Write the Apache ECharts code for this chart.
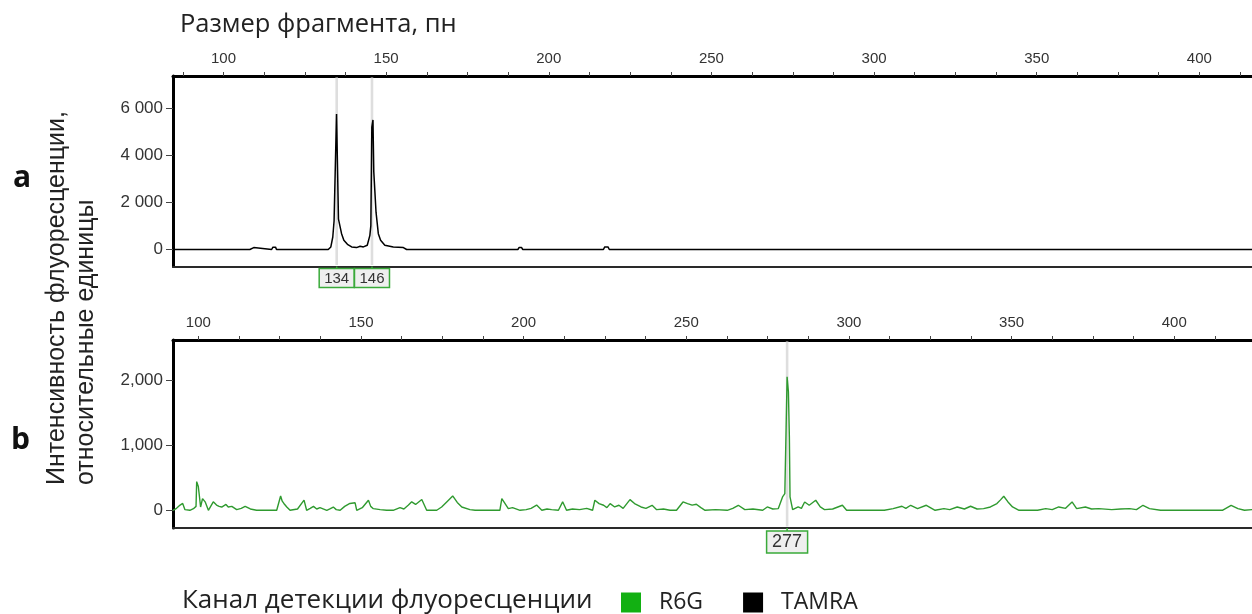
<!DOCTYPE html>
<html><head><meta charset="utf-8">
<script src="https://cdn.jsdelivr.net/npm/echarts@6/dist/echarts.min.js"></script>
<style>html,body{margin:0;padding:0;background:#fff}#chart{width:1252px;height:614px}</style>
</head><body><div id="chart"></div>
<script>
// ---------- data ----------
const sizeTickLabels = [100, 150, 200, 250, 300, 350, 400];
const sizeMinorTicks = [87.5, 100, 112.5, 125, 137.5, 150, 162.5, 175, 187.5, 200, 212.5, 225, 237.5, 250, 262.5, 275, 287.5, 300, 312.5, 325, 337.5, 350, 362.5, 375, 387.5, 400, 412.5];

const yTicksA = [0, 2000, 4000, 6000];
const yMinorA = [-500, 0, 500, 1000, 1500, 2000, 2500, 3000, 3500, 4000, 4500, 5000, 5500, 6000, 6500, 7000];
const yTicksB = [0, 1000, 2000];
const yMinorB = [-250, 0, 250, 500, 750, 1000, 1250, 1500, 1750, 2000, 2250, 2500];

// panel a: TAMRA channel, [size bp, intensity]
const tamra = [
  [84.5,0],[108.1,0],[108.5,80],[109.3,80],[109.7,0],[114.8,0],[115.2,100],[116.0,100],[116.3,0],
  [132.2,0],[133.0,110],[133.6,530],[134.0,1220],[134.5,1300],[134.75,5740],[135.05,5740],[135.35,1290],
  [135.8,1220],[136.3,670],[137.0,390],[138.1,220],[139.4,110],[140.9,80],[142.0,140],[143.0,110],
  [144.2,180],[145.0,600],[145.3,1010],[145.6,5180],[145.95,5490],[146.2,3300],[146.9,1570],[147.6,670],
  [148.3,390],[149.6,180],[152.2,110],[155.3,80],[156.3,0],[190.5,0],[190.9,90],[191.6,90],[192.0,0],
  [216.8,0],[217.2,110],[218.2,110],[218.6,0],[420,0]
];
// panel b: R6G channel, [size bp, intensity]
const r6g = [
  [92.2,0],[93.3,30],[94.4,80],[95.2,105],[95.9,10],[97.4,0],[98.5,25],[99.3,60],[99.5,440],[100.0,365],[100.3,235],
  [100.7,50],[101.3,180],[102.1,130],[103.1,0],[104.6,130],[105.6,80],[106.4,60],[107.2,50],[108.5,90],[109.2,50],
  [110.3,60],[111.8,10],[113.2,30],[114.4,60],[116.0,20],[117.9,0],[124.1,0],[124.6,25],[125.3,220],[125.8,140],
  [126.3,105],[127.2,50],[128.2,0],[130.5,20],[132.5,155],[133.3,0],[134.4,30],[135.4,60],[136.4,20],[137.4,40],
  [139.5,0],[140.6,25],[141.5,50],[142.4,10],[143.6,0],[145.0,60],[146.6,105],[148.2,115],[148.7,0],[150.4,40],
  [152.3,155],[153.0,60],[153.8,25],[155.9,10],[157.9,0],[159.9,0],[162.0,40],[163.2,20],[164.6,80],[165.6,130],
  [166.8,90],[168.7,165],[170.2,0],[173.3,0],[174.8,50],[176.6,140],[178.2,220],[179.6,120],[181.0,50],[183.5,10],
  [185.1,0],[192.7,0],[193.3,180],[194.2,110],[195.3,25],[196.6,40],[198.9,0],[200.8,10],[202.3,30],[204.0,80],
  [205.6,0],[207.2,20],[208.6,10],[210.7,0],[212.0,130],[213.2,0],[215.0,20],[217.2,10],[219.4,30],[221.2,0],
  [221.9,154],[223.2,103],[224.6,77],[225.6,40],[226.6,103],[228.0,51],[229.3,77],[230.6,30],[232.7,164],
  [234.1,103],[236.1,51],[237.6,30],[239.5,77],[240.9,10],[243.0,20],[245.0,0],[247.0,0],[249.0,128],[250.4,103],
  [251.8,80],[253.1,92],[254.5,40],[255.8,0],[259.0,10],[262.6,0],[264.3,30],[266.0,77],[268.0,10],[270.5,20],
  [273.5,0],[274.9,51],[276.6,20],[278.3,26],[279.6,205],[280.3,256],[280.7,1280],[281.0,2050],[281.4,1820],
  [281.7,1130],[281.9,205],[282.7,10],[284.4,51],[285.4,30],[286.4,128],[287.8,77],[289.8,154],[291.2,51],
  [292.5,10],[295.0,20],[298.0,77],[299.3,0],[310.9,0],[313.6,26],[316.3,62],[317.5,30],[319.0,77],[321.1,26],
  [323.8,77],[326.5,0],[329.2,26],[331.0,10],[333.3,51],[335.5,20],[337.4,62],[339.4,20],[341.4,26],[343.5,51],
  [345.5,103],[346.6,160],[347.6,215],[348.9,128],[350.3,51],[352.3,0],[358.0,0],[360.5,26],[362.5,10],[364.5,51],
  [366.6,30],[368.6,128],[370.0,26],[372.7,51],[374.6,20],[376.8,26],[380.8,10],[383.5,20],[386.3,26],[388.4,10],
  [390.4,77],[392.4,26],[395.8,0],[414.8,0],[417.5,77],[419.6,26],[421.6,0],[424.0,10],[428,0]
];

// size-calling markers: [axis position, label]
const markersA = [[134.8, '134'], [145.65, '146']];
const markersB = [[281.0, '277']];

// ---------- helpers ----------
const fmtSpace = v => String(v).replace(/\B(?=(\d{3})+(?!\d))/g, '\u00a0');
const fmtComma = v => String(v).replace(/\B(?=(\d{3})+(?!\d))/g, ',');

function grayLine(params, api) {
  const x = api.coord([api.value(0), 0])[0];
  const cs = params.coordSys;
  return { type: 'rect', shape: { x: x - 1.3, y: cs.y + 1.5, width: 2.6, height: cs.height - 3 },
           style: { fill: '#dedede' } };
}
function boxRenderer(labels, w, h, gap, fs) {
  return function (params, api) {
    const x = api.coord([api.value(0), 0])[0];
    const cs = params.coordSys;
    const bottom = cs.y + cs.height;
    const top = bottom + gap;
    return { type: 'group', children: [
      { type: 'line', shape: { x1: x, y1: bottom, x2: x, y2: top }, style: { stroke: '#3aaa3a', lineWidth: 1.5 } },
      { type: 'rect', shape: { x: x - w / 2, y: top, width: w, height: h },
        style: { fill: '#efefef', stroke: '#3aaa3a', lineWidth: 1.5 } },
      { type: 'text', style: { x: x, y: top + h / 2 + 0.5, text: labels[params.dataIndex], fill: '#333',
        font: fs + 'px "Liberation Sans", Arial, sans-serif', align: 'center', verticalAlign: 'middle' } }
    ]};
  };
}

const tickFont = { fontFamily: '"Liberation Sans", Arial, sans-serif', color: '#333' };

function xAxisTop(gridIndex, min, max) {
  return {
    type: 'value', gridIndex, position: 'top', min, max,
    axisLine: { show: true, onZero: false, lineStyle: { color: '#000', width: 3 } },
    axisTick: { show: true, inside: false, length: 4, customValues: sizeMinorTicks, lineStyle: { color: '#444', width: 1 } },
    axisLabel: { show: true, customValues: sizeTickLabels, fontSize: 15, margin: 10, ...tickFont },
    splitLine: { show: false }
  };
}
function xAxisBottom(gridIndex, min, max) {
  return {
    type: 'value', gridIndex, position: 'bottom', min, max,
    axisLine: { show: true, onZero: false, lineStyle: { color: '#2a2a2a', width: 2 } },
    axisTick: { show: false }, axisLabel: { show: false }, splitLine: { show: false }
  };
}
function yMajor(gridIndex, min, max, ticks, fmt) {
  return {
    type: 'value', gridIndex, min, max,
    axisLine: { show: true, onZero: false, lineStyle: { color: '#000', width: 3 } },
    axisTick: { show: true, length: 7, customValues: ticks, lineStyle: { color: '#444', width: 1 } },
    axisLabel: { show: true, customValues: ticks, formatter: fmt, fontSize: 17, margin: 10, ...tickFont },
    splitLine: { show: false }
  };
}
function yMinor(gridIndex, min, max, ticks) {
  return {
    type: 'value', gridIndex, min, max,
    axisLine: { show: false, onZero: false },
    axisTick: { show: true, length: 4, customValues: ticks, lineStyle: { color: '#444', width: 1 } },
    axisLabel: { show: false },
    splitLine: { show: false }
  };
}

const pxPerBp = 3.253;
const plotWidth = 1252 - 173;
const minA = 84.48, maxA = minA + plotWidth / pxPerBp;
const minB = 92.22, maxB = minB + plotWidth / pxPerBp;

const option = {
  animation: false,
  backgroundColor: '#fff',
  grid: [
    { left: 173, top: 76, right: 0, height: 190.5, show: false },
    { left: 173, top: 340, right: 0, height: 188, show: false }
  ],
  xAxis: [ xAxisTop(0, minA, maxA), xAxisTop(1, minB, maxB), xAxisBottom(0, minA, maxA), xAxisBottom(1, minB, maxB) ],
  yAxis: [
    yMajor(0, -720, 7350, yTicksA, fmtSpace),
    yMinor(0, -720, 7350, yMinorA),
    yMajor(1, -272, 2615, yTicksB, fmtComma),
    yMinor(1, -272, 2615, yMinorB)
  ],
  legend: {
    data: [ { name: 'R6G', itemStyle: { color: '#12b012' } }, { name: 'TAMRA', itemStyle: { color: '#000' } } ],
    left: 621, top: 591, padding: 0, icon: 'rect', itemWidth: 20, itemHeight: 20, itemGap: 40, selectedMode: false,
    textStyle: { fontFamily: '"Open Sans", sans-serif', fontSize: 23, color: '#222', padding: [0, 0, 0, 13] }
  },
  series: [
    { type: 'custom', name: 'mA', xAxisIndex: 0, yAxisIndex: 0, data: markersA.map(m => [m[0]]), renderItem: grayLine, z: 1, silent: true },
    { type: 'line', name: 'TAMRA', xAxisIndex: 0, yAxisIndex: 0, data: tamra, showSymbol: false, symbol: 'none',
      lineStyle: { color: '#000', width: 1.5 }, itemStyle: { color: '#000' }, z: 3, silent: true },
    { type: 'custom', name: 'bA', xAxisIndex: 0, yAxisIndex: 0, data: markersA.map(m => [m[0]]),
      renderItem: boxRenderer(markersA.map(m => m[1]), 35, 19, 2, 15), clip: false, z: 5, silent: true },
    { type: 'custom', name: 'mB', xAxisIndex: 1, yAxisIndex: 2, data: markersB.map(m => [m[0]]), renderItem: grayLine, z: 1, silent: true },
    { type: 'line', name: 'R6G', xAxisIndex: 1, yAxisIndex: 2, data: r6g, showSymbol: false, symbol: 'none',
      lineStyle: { color: '#2f9a2f', width: 1.4 }, itemStyle: { color: '#2f9a2f' }, z: 3, silent: true },
    { type: 'custom', name: 'bB', xAxisIndex: 1, yAxisIndex: 2, data: markersB.map(m => [m[0]]),
      renderItem: boxRenderer(markersB.map(m => m[1]), 41, 22, 3, 18), clip: false, z: 5, silent: true }
  ],
  graphic: [
    { type: 'text', left: 180, top: 12, style: { text: 'Размер фрагмента, пн', font: '25.5px "Open Sans", sans-serif', fill: '#222' } },
    { type: 'text', x: 13, y: 178, style: { text: 'a', font: 'bold 30px "Open Sans", sans-serif', fill: '#111', verticalAlign: 'middle' } },
    { type: 'text', x: 11, y: 440, style: { text: 'b', font: 'bold 30px "Open Sans", sans-serif', fill: '#111', verticalAlign: 'middle' } },
    { type: 'text', x: 43, y: 485, rotation: Math.PI / 2,
      style: { text: 'Интенсивность флуоресценции,\nотносительные единицы', font: '25px "Liberation Sans", Arial, sans-serif',
               fill: '#222', align: 'left', verticalAlign: 'top', lineHeight: 29 } },
    { type: 'text', left: 182, top: 588, style: { text: 'Канал детекции флуоресценции', font: '26px "Open Sans", sans-serif', fill: '#222' } }
  ]
};

const chart = echarts.init(document.getElementById('chart'), null, { renderer: 'canvas' });
chart.setOption(option);
</script>
</body></html>
